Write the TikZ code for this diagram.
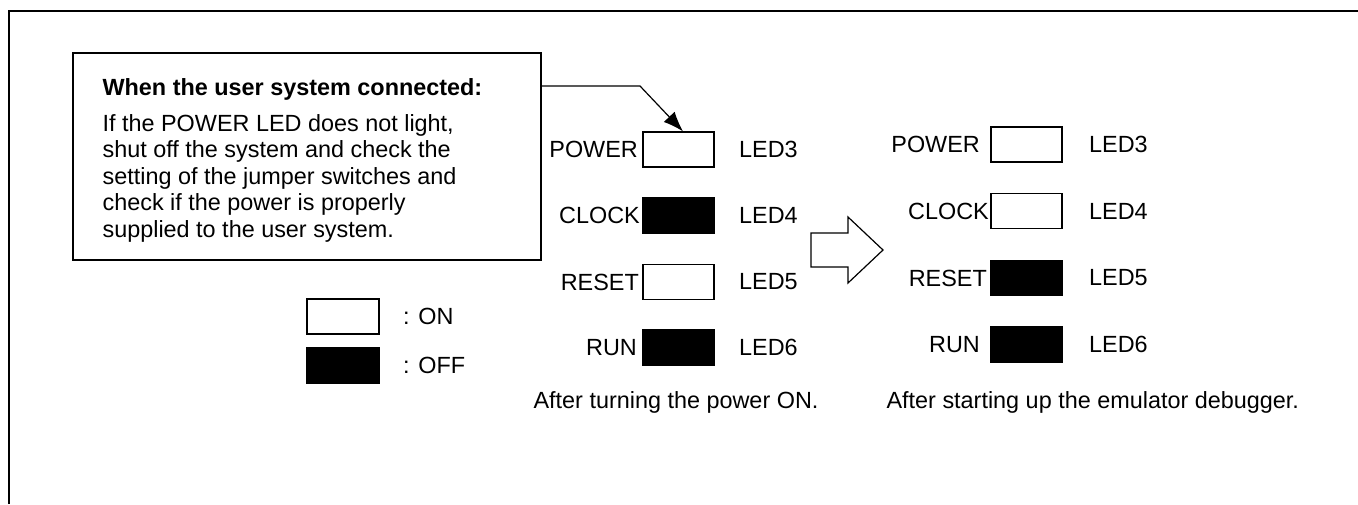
\documentclass[tikz,border=0pt]{standalone}
\usepackage{fontspec}
\setmainfont{Liberation Sans}
\usetikzlibrary{arrows.meta,calc}
\tikzset{
  ledon/.style={draw, line width=1.2pt, fill=white, minimum width=71pt, minimum height=35pt, inner sep=0pt},
  ledoff/.style={ledon, fill=black},
  ledname/.style={anchor=east, inner sep=4pt},
  ledno/.style={anchor=west, inner sep=0pt, xshift=24pt},
}
\begin{document}
\begin{tikzpicture}[x=1pt, y=-1pt, line width=1.2pt, font=\fontsize{23.4}{26.5}\selectfont]
	\useasboundingbox (0,0) rectangle (1358,504);
	% --- 1. Khung ngoai ---
	\draw[line width=2.2pt] (9,504) -- (9,11) -- (1358,11);
	
	% --- 2. Hop ghi chu ---
	\node[draw, line width=1.2pt, minimum width=468pt, minimum height=207pt, inner sep=0pt] (note) at (307,156.5) {};
	\node[anchor=base west, inner sep=0pt, font=\fontsize{23.4}{26.5}\selectfont\bfseries] (head) at (102,95) {When the user system connected:};
	% (base = duong chan cua dong cuoi)
	\node[anchor=base west, inner sep=0pt, align=left] (body) at (102,237) {If the POWER LED does not light,\\shut off the system and check the\\setting of the jumper switches and\\check if the power is properly\\supplied to the user system.};
	
	% --- 3. Cot LED sau khi bat nguon ---
	\node[ledon]  (pwrA) at (678.5,149.5) {};
	\node[ledoff] (clkA) at (678.5,215.5) {};
	\node[ledon]  (rstA) at (678.5,282) {};
	\node[ledoff] (runA) at (678.5,347.5) {};
	\node[ledname] at (pwrA.west) {POWER};
	\node[ledname, inner sep=2pt] at (clkA.west) {CLOCK};
	\node[ledname, inner sep=3pt] at (rstA.west) {RESET};
	\node[ledname, inner sep=5pt] at (runA.west) {RUN};
	\node[ledno] at (pwrA.east) {LED3};
	\node[ledno] at (clkA.east) {LED4};
	\node[ledno] at (rstA.east) {LED5};
	\node[ledno] at (runA.east) {LED6};
	\node[anchor=west, inner sep=0pt] (capA) at (533,402) {After turning the power ON.};
	
	% --- 4. Cot LED sau khi khoi dong debugger ---
	\node[ledon]  (pwrB) at (1026.5,144.5) {};
	\node[ledon]  (clkB) at (1026.5,211) {};
	\node[ledoff] (rstB) at (1026.5,278) {};
	\node[ledoff] (runB) at (1026.5,344.5) {};
	\node[ledname, inner sep=10pt] at (pwrB.west) {POWER};
	\node[ledname, inner sep=1pt] at (clkB.west) {CLOCK};
	\node[ledname, inner sep=3pt] at (rstB.west) {RESET};
	\node[ledname, inner sep=10pt] at (runB.west) {RUN};
	\node[ledno, xshift=2pt] at (pwrB.east) {LED3};
	\node[ledno, xshift=2pt] at (clkB.east) {LED4};
	\node[ledno, xshift=2pt] at (rstB.east) {LED5};
	\node[ledno, xshift=2pt] at (runB.east) {LED6};
	\node[anchor=west, inner sep=0pt] (capB) at (886,402) {After starting up the emulator debugger.};
	
	% --- 5. Chu thich ON / OFF ---
	\node[ledon, minimum width=72pt]  (keyOn)  at (343,316.5) {};
	\node[ledoff, minimum width=72pt] (keyOff) at (343,365.5) {};
	\node[anchor=west, inner sep=0pt, xshift=23pt] at (keyOn.east) {: ON};
	\node[anchor=west, inner sep=0pt, xshift=23pt] at (keyOff.east) {: OFF};
	
	% --- 6. Mui ten lon va duong chi dan ---
	\draw[fill=white] (811,233) -- (848,233) -- (848,217) -- (883,250) -- (848,283) -- (848,267) -- (811,267) -- cycle;
	\coordinate (bend) at (640,86);
	\coordinate (tip) at ($(pwrA.north)+(4.5,0)$);
	\draw[-{Latex[length=20pt,width=15pt]}] (note.east |- bend) -- (bend) -- (tip);
\end{tikzpicture}
\end{document}
